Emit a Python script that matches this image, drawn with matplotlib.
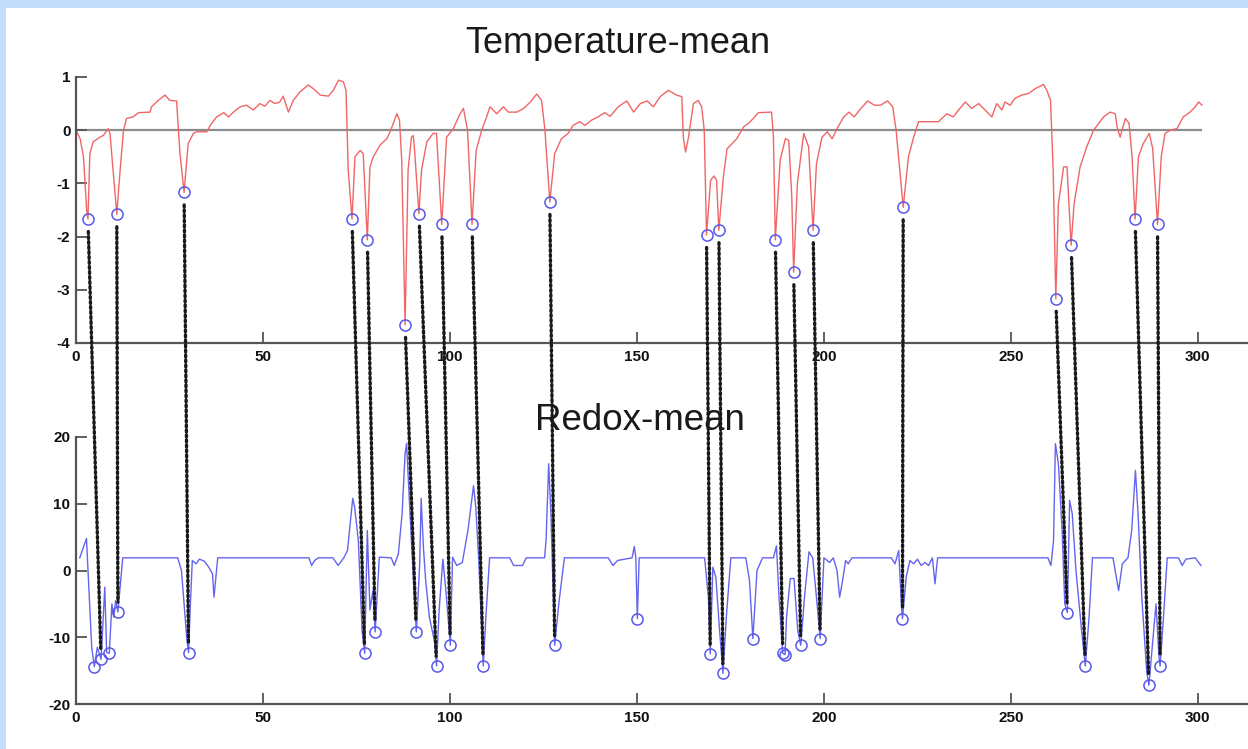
import matplotlib
matplotlib.use('Agg')
import matplotlib.pyplot as plt
from matplotlib.patches import ConnectionPatch, Rectangle

plt.rcParams['font.family'] = ['Liberation Sans', 'DejaVu Sans']
plt.rcParams['axes.unicode_minus'] = False

# Temperature-mean curve (vertices)
temp_x = [0, 1.1, 2.0, 2.85, 3.2, 3.7, 4.6, 6.4, 7.3, 8.6, 9.1, 10.9, 11.8, 12.7, 13.5, 15.3,
          16.7, 19.8, 20.2, 22.0, 23.8, 25.1, 26.9, 27.8, 28.9, 30.0, 31.4, 32.3, 35.0, 35.9,
          37.6, 39.5, 40.8, 42.1, 43.9, 45.6, 47.4, 49.2, 50.5, 51.9, 53.2, 54.5, 55.4, 56.8,
          58.1, 59.9, 62.1, 63.5, 65.3, 67.5, 68.8, 70.2, 71.5, 72.2, 72.8, 73.8, 74.6, 76.0,
          76.8, 77.9, 78.6, 79.5, 81.3, 83.1, 84.0, 85.8, 86.5, 87.1, 88.0, 88.8, 89.7, 90.2,
          90.6, 91.7, 92.4, 93.8, 95.5, 96.4, 97.8, 98.7, 99.1, 100.9, 102.7, 103.6, 104.7,
          105.9, 107.0, 108.5, 109.8, 110.7, 112.5, 114.3, 115.6, 117.9, 119.7, 121.5, 123.2,
          124.5, 125.4, 126.7, 128.0, 129.8, 131.6, 132.9, 134.7, 136.1, 137.9, 139.6, 141.4,
          142.8, 145.0, 147.3, 149.1, 150.9, 152.7, 154.4, 156.2, 158.4, 160.6, 162.0, 162.4,
          163.0, 163.8, 165.1, 166.4, 167.3, 168.0, 168.6, 169.7, 170.6, 171.3, 171.9, 173.1,
          174.1, 176.7, 178.5, 180.3, 182.5, 186.0, 186.5, 187.0, 188.3, 189.7, 190.6, 191.4,
          191.9, 192.9, 194.6, 195.9, 197.1, 198.0, 199.5, 200.9, 202.2, 203.5, 205.3, 206.7,
          208.1, 209.9, 211.7, 213.5, 215.2, 217.0, 218.4, 219.3, 221.2, 222.6, 224.0, 225.3,
          230.6, 232.9, 234.6, 236.0, 237.8, 239.5, 241.4, 243.1, 244.9, 246.2, 247.6, 248.4,
          249.8, 251.1, 252.9, 254.7, 256.5, 258.7, 259.6, 260.6, 261.3, 262.0, 262.7, 264.1,
          265.0, 266.1, 266.9, 268.5, 270.3, 272.1, 274.8, 276.5, 277.9, 278.4, 279.2, 280.6,
          281.6, 282.4, 283.2, 284.1, 285.4, 287.0, 287.9, 289.2, 290.2, 291.2, 292.6, 294.4,
          296.1, 297.9, 299.3, 300.2, 301.1]
temp_y = [0, -0.16, -0.5, -1.5, -1.67, -0.44, -0.22, -0.13, -0.1, 0.03, -0.07, -1.58, -0.75, 0.0,
          0.22, 0.25, 0.33, 0.34, 0.44, 0.56, 0.66, 0.56, 0.55, -0.44, -1.17, -0.25, -0.06, -0.03,
          -0.03, 0.09, 0.25, 0.33, 0.25, 0.34, 0.44, 0.47, 0.38, 0.5, 0.45, 0.56, 0.5, 0.53, 0.64,
          0.34, 0.56, 0.72, 0.85, 0.78, 0.66, 0.64, 0.75, 0.94, 0.91, 0.75, -0.75, -1.67, -0.5,
          -0.38, -0.44, -2.06, -0.69, -0.5, -0.28, -0.16, -0.03, 0.31, 0.19, -0.56, -3.66, -0.75,
          -0.13, -0.1, -0.44, -1.57, -0.75, -0.22, -0.06, -0.06, -1.77, -0.63, -0.13, 0.03, 0.31,
          0.41, 0.0, -1.77, -0.38, 0.0, 0.25, 0.44, 0.31, 0.44, 0.34, 0.34, 0.41, 0.53, 0.68, 0.56,
          0.0, -1.35, -0.44, -0.16, -0.06, 0.09, 0.16, 0.09, 0.19, 0.25, 0.33, 0.26, 0.44, 0.55,
          0.34, 0.5, 0.55, 0.44, 0.63, 0.75, 0.66, 0.63, -0.13, -0.41, -0.13, 0.5, 0.56, 0.44, 0.0,
          -1.97, -0.94, -0.86, -0.94, -1.88, -0.88, -0.35, -0.16, 0.06, 0.16, 0.33, 0.34, -0.13,
          -2.06, -0.56, -0.16, -0.19, -1.25, -2.67, -1.0, -0.06, -0.31, -1.88, -0.63, -0.13, -0.03,
          -0.16, 0.03, 0.25, 0.34, 0.25, 0.41, 0.55, 0.47, 0.47, 0.55, 0.44, 0.0, -1.45, -0.5,
          -0.13, 0.16, 0.16, 0.31, 0.25, 0.38, 0.53, 0.41, 0.5, 0.38, 0.25, 0.5, 0.38, 0.53, 0.47,
          0.6, 0.66, 0.69, 0.78, 0.86, 0.75, 0.56, -0.75, -3.17, -1.38, -0.69, -0.69, -2.16, -1.38,
          -0.69, -0.31, 0.0, 0.25, 0.34, 0.31, 0.06, -0.13, 0.22, 0.13, -0.5, -1.67, -0.5, -0.25,
          -0.06, -0.34, -1.77, -0.5, -0.06, 0.0, 0.03, 0.25, 0.34, 0.44, 0.53, 0.47]

# Redox-mean curve
redox_x = [1.0, 2.3, 2.8, 3.3, 4.2, 4.9, 5.7, 6.7, 7.7, 8.2, 8.9, 9.6, 10.1, 10.6, 11.2, 12.5,
           27.2, 28.2, 29.6, 30.1, 30.6, 31.1, 32.1, 33.0, 34.3, 35.5, 36.5, 36.9, 37.4, 37.9,
           62.3, 63.0, 63.8, 64.8, 68.7, 70.1, 71.6, 72.6, 74.0, 74.5, 75.5, 76.5, 77.2, 77.9,
           78.6, 79.4, 80.0, 81.1, 84.3, 85.1, 86.2, 87.2, 88.0, 88.4, 89.1, 90.1, 91.0, 91.9,
           92.3, 92.9, 93.5, 94.5, 96.0, 96.4, 97.1, 98.1, 98.9, 100.1, 100.7, 101.8, 103.3,
           104.8, 106.3, 106.9, 107.7, 108.7, 108.9, 109.6, 110.6, 116.0, 117.0, 119.4, 120.4,
           125.3, 125.7, 126.4, 127.0, 127.7, 128.0, 129.1, 130.6, 142.3, 143.6, 144.8, 148.7,
           149.3, 149.7, 150.1, 150.6, 168.1, 169.1, 169.6, 170.3, 171.1, 172.1, 173.0, 173.9,
           175.1, 179.1, 180.1, 181.0, 182.1, 183.6, 186.5, 187.3, 188.0, 188.8, 189.0, 189.6,
           190.0, 191.0, 192.0, 193.0, 193.8, 194.8, 196.0, 197.0, 198.0, 199.0, 200.0, 201.5,
           202.5, 203.5, 204.2, 205.0, 205.8, 206.5, 207.5, 218.0, 219.0, 220.0, 220.7, 221.0,
           222.0, 223.0, 224.0, 225.0, 226.0, 227.0, 228.0, 229.0, 229.7, 230.4, 259.9, 260.7,
           261.4, 261.9, 262.7, 263.7, 264.4, 265.1, 265.7, 266.4, 267.4, 268.9, 269.9, 270.9,
           271.8, 277.3, 278.8, 279.8, 281.3, 282.3, 283.3, 284.0, 285.0, 286.3, 286.9, 287.8,
           288.8, 289.6, 289.9, 290.8, 291.8, 294.8, 295.8, 296.8, 299.3, 300.8]
redox_y = [1.9, 4.0, 4.8, -1.0, -11.5, -14.4, -11.5, -13.3, -2.5, -12.3, -12.4, -5.0, -7.0, -4.5,
           -6.2, 1.9, 1.9, 0.0, -10.0, -12.3, -4.9, 1.5, 1.0, 1.7, 1.4, 0.5, -0.5, -4.0, -1.0, 1.9,
           1.9, 0.75, 1.5, 1.9, 1.9, 0.75, 1.9, 3.0, 10.8, 9.5, 4.5, -9.0, -12.4, 6.0, -5.9, -3.0,
           -9.2, 2.0, 1.9, 0.75, 2.5, 8.5, 17.5, 19.0, 11.0, 0.0, -9.2, 1.0, 10.8, 3.5, -1.5, -7.0,
           -11.0, -14.3, -6.0, 1.7, -3.0, -11.2, 2.0, 0.75, 1.2, 6.0, 12.7, 9.5, 1.5, -11.5, -14.3,
           -7.0, 1.9, 1.9, 0.75, 0.75, 1.9, 1.9, 4.5, 16.0, 8.5, -5.0, -11.2, -5.0, 1.9, 1.9, 0.75,
           1.5, 1.9, 3.6, 1.9, -7.2, 1.9, 1.9, -4.0, -12.5, 0.5, -1.0, -9.0, -15.4, -7.0, 1.9, 1.9,
           -1.5, -10.2, 0.0, 1.9, 1.9, 3.7, -4.0, -11.0, -12.4, -12.6, -7.0, -1.2, -1.2, -9.0,
           -11.2, -4.0, 2.8, 1.9, -4.0, -10.2, 1.9, 1.2, 1.9, 0.0, -4.0, -1.5, 1.5, 1.0, 1.9, 1.9,
           1.0, 3.0, -5.0, -7.2, -1.0, 1.5, 1.0, 1.7, 0.75, 1.2, 0.75, 1.9, -2.0, 1.9, 1.9, 0.75,
           4.5, 19.0, 16.0, 6.0, -5.0, -6.3, 10.5, 8.5, 0.0, -9.0, -14.3, -7.0, 1.9, 1.9, -3.0,
           1.0, 1.9, 6.0, 15.0, 8.5, -4.0, -15.0, -17.2, -11.5, -5.0, -13.0, -14.3, -7.0, 1.9, 1.9,
           0.75, 1.7, 1.9, 0.75]

# detected minima (circles)
temp_min_x = [3.2, 10.9, 28.9, 73.8, 77.9, 88.0, 91.7, 97.8, 105.9, 126.7, 168.6, 171.9,
              187.0, 191.9, 197.1, 221.2, 262.0, 266.1, 283.2, 289.2]
temp_min_y = [-1.67, -1.58, -1.17, -1.67, -2.06, -3.66, -1.57, -1.77, -1.77, -1.35, -1.97,
              -1.88, -2.06, -2.67, -1.88, -1.45, -3.17, -2.16, -1.67, -1.77]
redox_min_x = [4.9, 6.7, 8.9, 11.2, 30.1, 77.2, 80.0, 91.0, 96.4, 100.1, 108.9, 128.0, 150.1,
               169.6, 173.0, 181.0, 189.0, 189.6, 193.8, 199.0, 221.0, 265.1, 269.9, 286.9, 289.9]
redox_min_y = [-14.4, -13.3, -12.4, -6.2, -12.3, -12.4, -9.2, -9.2, -14.3, -11.2, -14.3, -11.2,
               -7.2, -12.5, -15.4, -10.2, -12.4, -12.6, -11.2, -10.2, -7.2, -6.3, -14.3, -17.2, -14.3]
# which redox minimum each temperature minimum is linked to
link_bottom = [1, 3, 4, 5, 6, 7, 8, 9, 10, 11, 13, 14, 16, 18, 19, 20, 21, 22, 23, 24]

W, H = 1248, 749
fig = plt.figure(figsize=(W / 100, H / 100), dpi=100, facecolor='#c3ddfa')
fig.patches.append(Rectangle((6 / W, 0), 1, 1 - 8 / H, transform=fig.transFigure,
                             facecolor='white', edgecolor='none', zorder=-10))

ax1 = fig.add_axes([76 / W, 1 - 343 / H, 1 - 76 / W, 266 / H])
ax2 = fig.add_axes([76 / W, 1 - 704 / H, 1 - 76 / W, 267 / H])

for ax in (ax1, ax2):
    ax.set_facecolor('none')
    ax.set_xlim(0, 313.4)
    ax.set_xticks(range(0, 301, 50))
    for s in ('top', 'right'):
        ax.spines[s].set_visible(False)
    for s in ('left', 'bottom'):
        ax.spines[s].set_color('#555555')
        ax.spines[s].set_linewidth(1.6)
    ax.tick_params(direction='in', length=8, width=1.3, color='#555555',
                   labelsize=11, labelcolor='#111111')
    ax.tick_params(axis='x', pad=5)
    ax.tick_params(axis='y', pad=4)
    plt.setp(ax.get_xticklabels() + ax.get_yticklabels(), fontweight='bold')

ax1.set_ylim(-4, 1)
ax1.set_yticks([1, 0, -1, -2, -3, -4])
ax1.hlines(0, 0, 301, color='#8c8c8c', lw=1.6, zorder=1)
ax1.plot(temp_x, temp_y, color='#f06666', lw=1.0, zorder=2)
ax1.plot(temp_min_x, temp_min_y, 'o', mfc='none', mec='#5858e8', ms=8, mew=1.1, zorder=3)

ax2.set_ylim(-20, 20)
ax2.set_yticks([20, 10, 0, -10, -20])
ax2.plot(redox_x, redox_y, color='#6464ee', lw=1.0, zorder=2)
ax2.plot(redox_min_x, redox_min_y, 'o', mfc='none', mec='#5858e8', ms=8, mew=1.1, zorder=3)

fig.text(618 / W, 1 - 53 / H, 'Temperature-mean', ha='center', va='baseline',
         fontsize=26, color='#1a1a1a')
fig.text(640 / W, 1 - 430 / H, 'Redox-mean', ha='center', va='baseline',
         fontsize=26.5, color='#1a1a1a', zorder=4)

for i, j in enumerate(link_bottom):
    con = ConnectionPatch(xyA=(temp_min_x[i], temp_min_y[i]), coordsA=ax1.transData,
                          xyB=(redox_min_x[j], redox_min_y[j]), coordsB=ax2.transData,
                          color='#1a1a1a', lw=2.4, linestyle=(0, (0.6, 0.9)),
                          shrinkA=9, shrinkB=7, zorder=5)
    fig.add_artist(con)

fig.savefig('out.png', dpi=100, facecolor=fig.get_facecolor())
